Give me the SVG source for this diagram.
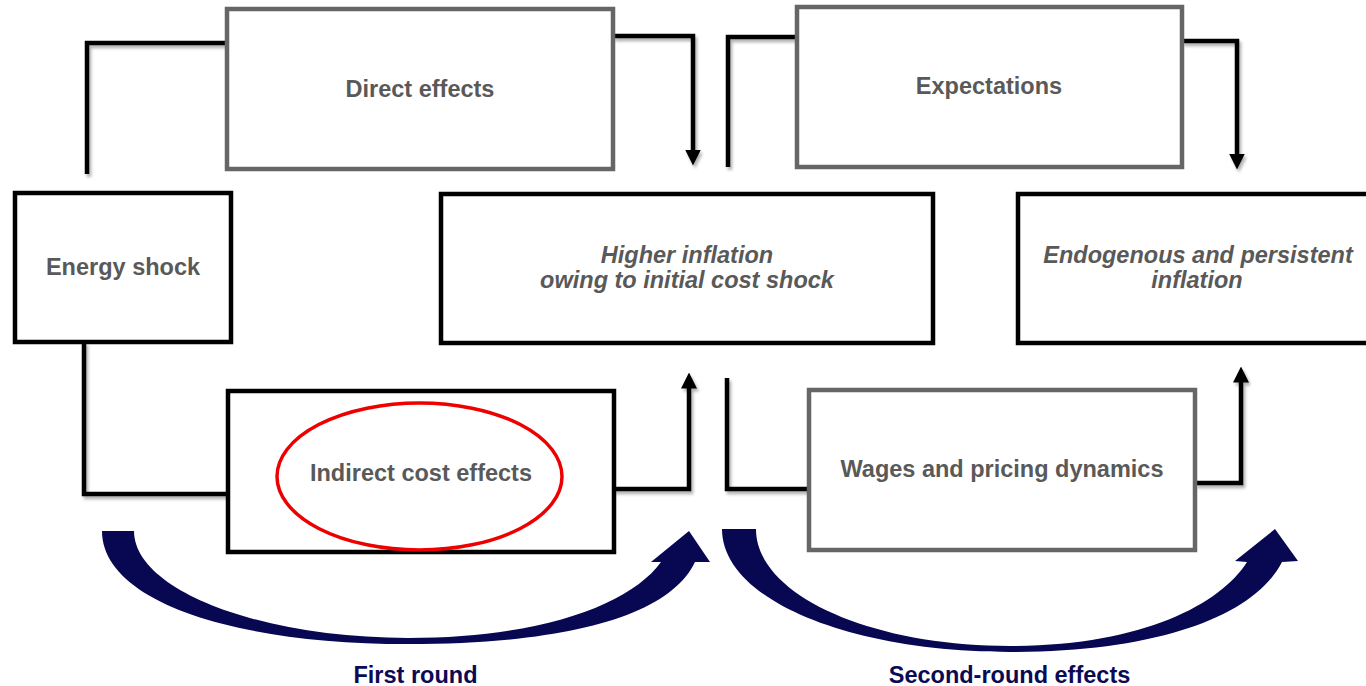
<svg xmlns="http://www.w3.org/2000/svg" width="1366" height="686" viewBox="0 0 1366 686">
<defs>
<style>
.box{fill:#fff;stroke:#000;stroke-width:4.5}
.gbox{fill:#fff;stroke:#666;stroke-width:4.5}
.lbl{font-family:"Liberation Sans",Arial,sans-serif;font-weight:bold;font-size:23.5px;fill:#595959;text-anchor:middle}
.it{font-style:italic}
.nav{font-family:"Liberation Sans",Arial,sans-serif;font-weight:bold;font-size:23.5px;fill:#0a0a55;text-anchor:middle}
.con{fill:none;stroke:#000;stroke-width:4.5;filter:url(#sh)}
.big{fill:#070752}
</style>
<filter id="sh" x="-20%" y="-20%" width="140%" height="140%">
<feDropShadow dx="2" dy="3" stdDeviation="1.5" flood-color="#000" flood-opacity="0.3"/>
</filter>
<marker id="ah" markerUnits="userSpaceOnUse" markerWidth="16" markerHeight="16" viewBox="0 0 16 16" refX="0.5" refY="8" orient="auto">
<path d="M0,0 L16,8 L0,16 z" fill="#000"/>
</marker>
</defs>
<rect width="1366" height="686" fill="#fff"/>

<g id="connectors">
<path class="con" d="M87 174 V43 H227"/>
<path class="con" d="M613 36 H693 V150" marker-end="url(#ah)"/>
<path class="con" d="M728 167 V37 H797"/>
<path class="con" d="M1182 41 H1237 V154" marker-end="url(#ah)"/>
<path class="con" d="M980 180 V343" marker-end="url(#ah)"/>
<path class="con" d="M84 342 V494 H228"/>
<path class="con" d="M613 489 H689 V388" marker-end="url(#ah)"/>
<path class="con" d="M727 378 V489 H808"/>
<path class="con" d="M1195 483 H1241 V382" marker-end="url(#ah)"/>
</g>

<g id="direct-effects">
<rect class="gbox" x="227" y="9" width="386" height="160"/>
<text class="lbl" x="420" y="97">Direct effects</text>
</g>
<g id="energy-shock">
<rect class="box" x="15" y="193" width="216" height="149"/>
<text class="lbl" x="123" y="275">Energy shock</text>
</g>
<g id="higher-inflation">
<rect class="box" x="441" y="194" width="492" height="149"/>
<text class="lbl it" x="687" y="263">Higher inflation</text>
<text class="lbl it" x="687" y="288">owing to initial cost shock</text>
</g>
<g id="expectations">
<rect class="gbox" x="797" y="7" width="385" height="160"/>
<text class="lbl" x="989" y="94">Expectations</text>
</g>
<g id="endogenous-inflation">
<rect class="box" x="1018" y="194" width="360" height="149"/>
<text class="lbl it" x="1198" y="263">Endogenous and persistent</text>
<text class="lbl it" x="1197" y="288">inflation</text>
</g>
<g id="indirect-cost-effects">
<rect class="box" x="228" y="391" width="386" height="161"/>
<ellipse cx="419.5" cy="476.5" rx="142.5" ry="73.5" fill="none" stroke="#e00" stroke-width="3.5"/>
<text class="lbl" x="421" y="481">Indirect cost effects</text>
</g>
<g id="wages-pricing">
<rect class="gbox" x="809" y="390" width="386" height="160"/>
<text class="lbl" x="1002" y="477">Wages and pricing dynamics</text>
</g>

<g id="first-round">
<path class="big" d="M102 531 C102 600 230 644 408 644 C570 644 670 615 695 562 L710 562 L689 531 L651 562 L661 562 C630 605 540 638 408 638 C260 638 134 590 134 531 Z"/>
<text class="nav" x="415.5" y="683">First round</text>
</g>
<g id="second-round">
<path class="big" d="M722 529 C722 600 850 652 1010 652 C1160 652 1255 615 1282 562 L1298 561 L1275 529 L1235 561 L1247 562 C1220 605 1140 646 1010 646 C870 646 756 595 756 529 Z"/>
<text class="nav" x="1009.5" y="683">Second-round effects</text>
</g>
</svg>
